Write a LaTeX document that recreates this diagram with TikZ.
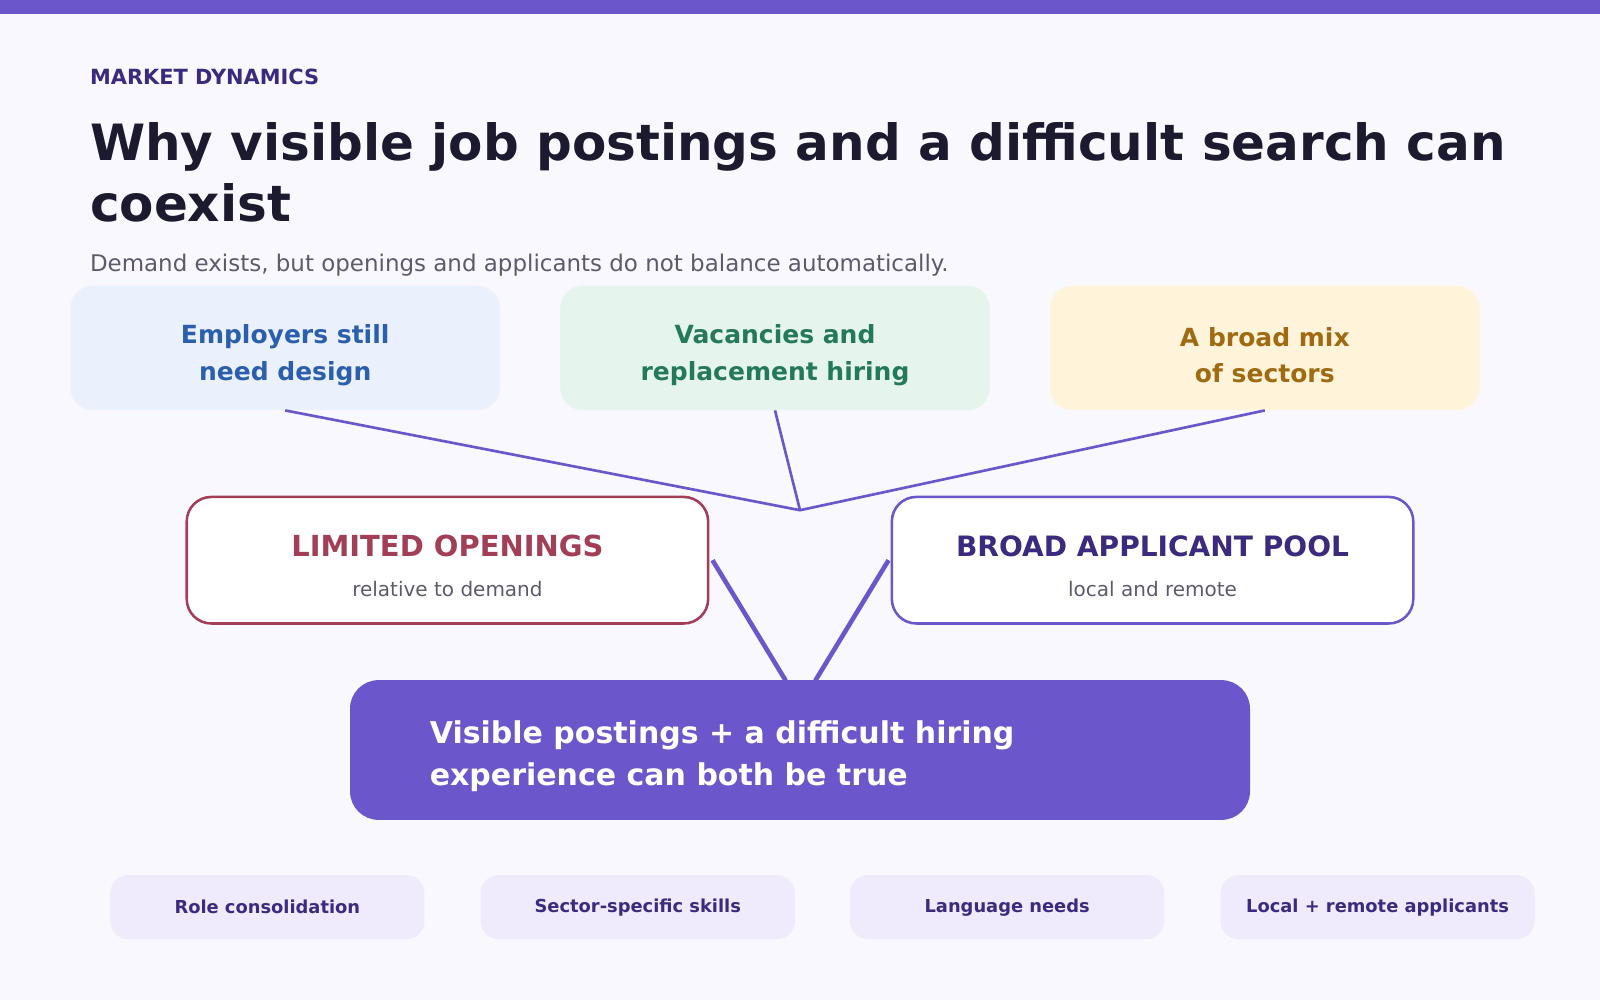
\documentclass[tikz,border=0pt]{standalone}
\usepackage{fontspec}
\setmainfont{DejaVu Sans}
\usetikzlibrary{positioning}
\definecolor{bgc}{HTML}{F9F8FE}
\definecolor{violet}{HTML}{6C56CC}
\definecolor{deepviolet}{HTML}{3B2A7E}
\definecolor{ink}{HTML}{1C1A2E}
\definecolor{slate}{HTML}{5E5A6E}
\definecolor{wine}{HTML}{A23E56}
\definecolor{chipfill}{HTML}{EFEBFC}
\definecolor{bluefill}{HTML}{EAF1FD}
\definecolor{bluetext}{HTML}{2B5FAE}
\definecolor{greenfill}{HTML}{E6F4EE}
\definecolor{greentext}{HTML}{23795A}
\definecolor{amberfill}{HTML}{FFF4D9}
\definecolor{ambertext}{HTML}{A06A12}
\tikzset{
  topbox/.style={rounded corners=22pt, minimum width=421pt, minimum height=122pt},
  toptext/.style={align=center, font=\fontsize{24.5}{36}\selectfont\bfseries},
  midbox/.style={rounded corners=24pt, line width=2.5pt, fill=white,
    minimum width=511pt, minimum height=124pt},
  chip/.style={rounded corners=18pt, fill=chipfill, minimum width=308pt, minimum height=63pt,
    text=deepviolet, font=\fontsize{17.5}{20}\selectfont\bfseries},
  link/.style={violet, line width=2.6pt},
  thick link/.style={violet, line width=4.5pt}
}
\begin{document}
\begin{tikzpicture}[x=1pt,y=-1pt]
    % Canvas
    \fill[bgc] (0,0) rectangle (1568,980);
    \fill[violet] (0,0) rectangle (1568,14);

    % Heading
    \node[anchor=base west, text=deepviolet, font=\fontsize{20.5}{24}\selectfont\bfseries, inner sep=0]
        (kicker) at (88,83) {MARKET DYNAMICS};
    \node[anchor=base west, text=ink, font=\fontsize{49}{60}\selectfont\bfseries, inner sep=0]
        (title1) at (88,157) {Why visible job postings and a difficult search can};
    \node[anchor=base west, text=ink, font=\fontsize{49}{60}\selectfont\bfseries, inner sep=0]
        (title2) at (88,217) {coexist};
    \node[anchor=base west, text=slate, font=\fontsize{22.5}{26}\selectfont, inner sep=0]
        (subtitle) at (88,266) {Demand exists, but openings and applicants do not balance automatically.};

    % Demand drivers
    \node[topbox, fill=bluefill] (employers) at (279.5,341) {};
    \node[toptext, text=bluetext] at (279.5,348) {Employers still\\need design};
    \node[topbox, fill=greenfill] (vacancies) at (759.5,341) {};
    \node[toptext, text=greentext] at (759.5,348) {Vacancies and\\replacement hiring};
    \node[topbox, fill=amberfill] (sectors) at (1239.5,341) {};
    \node[toptext, text=ambertext] at (1239.5,348) {A broad mix\\of sectors};

    \coordinate (hub) at (784,500);
    \foreach \src in {employers,vacancies,sectors} {
        \draw[link] (\src.south) -- (hub);
    }

    % Two sides of the market
    \node[midbox, draw=wine] (openings) at (438.5,549) {};
    \node[text=wine, font=\fontsize{28.4}{32}\selectfont\bfseries] at (438.5,535) {LIMITED OPENINGS};
    \node[text=slate, font=\fontsize{19.6}{22}\selectfont] at (438.5,577) {relative to demand};

    \node[midbox, draw=violet] (pool) at (1129.5,549) {};
    \node[text=deepviolet, font=\fontsize{27.5}{32}\selectfont\bfseries] at (1129.5,535) {BROAD APPLICANT POOL};
    \node[text=slate, font=\fontsize{19.6}{22}\selectfont] at (1129.5,577) {local and remote};

    % Outcome
    \node[fill=violet, rounded corners=28pt, minimum width=882pt, minimum height=137pt] (outcome) at (784,735) {};
    \node[anchor=west, text=white, align=left, font=\fontsize{29.4}{41}\selectfont\bfseries, inner sep=0]
        at (421,741) {Visible postings + a difficult hiring\\experience can both be true};

    \coordinate (inL) at (770,667);
    \coordinate (inR) at (799,667);
    \draw[thick link] (openings.east) ++(3,0) -- (inL);
    \draw[thick link] (pool.west) ++(-2,0) -- (inR);

    % Factors
    \node[chip] (roles) at (262,889) {Role consolidation};
    \node[chip] (skills) at (625,889) {Sector-specific skills};
    \node[chip] (language) at (987,889) {Language needs};
    \node[chip] (remote) at (1350,889) {Local + remote applicants};
\end{tikzpicture}
\end{document}
